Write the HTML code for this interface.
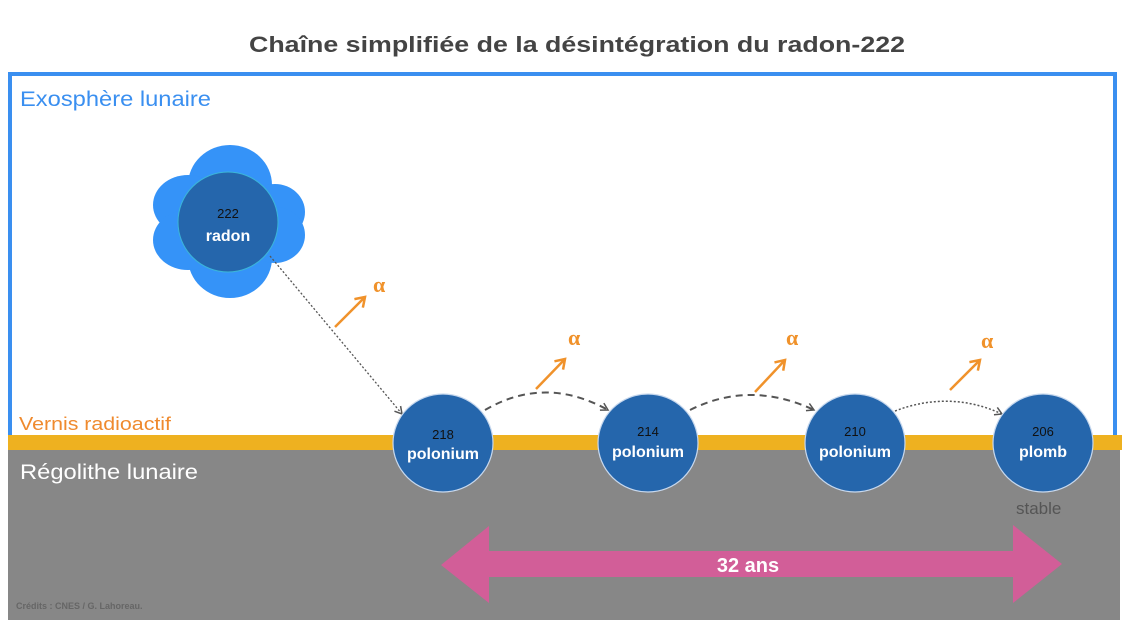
<!DOCTYPE html>
<html><head><meta charset="utf-8"><style>
html,body{margin:0;padding:0;background:#fff;}
svg{display:block;font-family:"Liberation Sans",sans-serif;}
</style></head><body>
<svg width="1133" height="627" viewBox="0 0 1133 627" xmlns="http://www.w3.org/2000/svg">
<defs>
<marker id="ah" markerWidth="10" markerHeight="10" refX="8" refY="5" orient="auto" markerUnits="userSpaceOnUse">
<path d="M1,1 L8,5 L1,9" fill="none" stroke="#555" stroke-width="1.5"/></marker>
<marker id="oa" markerWidth="14" markerHeight="14" refX="11" refY="7" orient="auto" markerUnits="userSpaceOnUse">
<path d="M2,1 L11,7 L2,13" fill="none" stroke="#f0922b" stroke-width="2.5"/></marker>
</defs>
<text x="249" y="52" font-size="22" font-weight="bold" fill="#444" textLength="656" lengthAdjust="spacingAndGlyphs">Chaîne simplifiée de la désintégration du radon-222</text>
<rect x="10" y="74" width="1105" height="380" fill="none" stroke="#3a8ff0" stroke-width="4"/>
<text x="20" y="106" font-size="21" fill="#3a8ff0" textLength="191" lengthAdjust="spacingAndGlyphs">Exosphère lunaire</text>
<rect x="8" y="450" width="1112" height="170" fill="#878787"/>
<rect x="8" y="435" width="1114" height="15" fill="#eeb120"/>
<text x="19" y="430" font-size="18" fill="#ef8a2e" textLength="152" lengthAdjust="spacingAndGlyphs">Vernis radioactif</text>
<text x="20" y="479" font-size="21" fill="#fff" textLength="178" lengthAdjust="spacingAndGlyphs">Régolithe lunaire</text>
<text x="1016" y="514" font-size="17" fill="#555">stable</text>
<text x="16" y="609" font-size="9" font-weight="bold" fill="#666">Crédits : CNES / G. Lahoreau.</text>
<!-- pink arrow -->
<path d="M441,565 L489,526 L489,551 L1013,551 L1013,525 L1062,564 L1013,603 L1013,577 L489,577 L489,603 Z" fill="#d25e98"/>
<text x="748" y="572" font-size="20" font-weight="bold" fill="#fff" text-anchor="middle">32 ans</text>
<!-- radon cloud -->
<g fill="#3593f8">
<ellipse cx="230" cy="185" rx="42" ry="40"/>
<ellipse cx="230" cy="258" rx="42" ry="40"/>
<ellipse cx="188" cy="205" rx="35" ry="30"/>
<ellipse cx="188" cy="240" rx="35" ry="30"/>
<ellipse cx="275" cy="212" rx="30" ry="28"/>
<ellipse cx="275" cy="235" rx="30" ry="28"/>
</g>
<circle cx="228" cy="222" r="50" fill="#2566ac" stroke="#3bb6d8" stroke-width="1"/>
<text x="228" y="218" font-size="13" fill="#111" text-anchor="middle">222</text>
<text x="228" y="241" font-size="16" font-weight="bold" fill="#fff" text-anchor="middle">radon</text>
<!-- connectors -->
<path d="M270,256 L402,414" stroke="#555" stroke-width="1.3" stroke-dasharray="2,2" fill="none" marker-end="url(#ah)"/>
<path d="M485,410 Q545,375 608,410" stroke="#555" stroke-width="2" stroke-dasharray="7,5" fill="none" marker-end="url(#ah)"/>
<path d="M690,410 Q750,380 814,410" stroke="#555" stroke-width="2" stroke-dasharray="7,5" fill="none" marker-end="url(#ah)"/>
<path d="M895,411 Q950,390 1002,414" stroke="#555" stroke-width="1.5" stroke-dasharray="2,2" fill="none" marker-end="url(#ah)"/>
<!-- alpha arrows -->
<g stroke="#f0922b" stroke-width="2.5" fill="none">
<path d="M335,327 L365,297" marker-end="url(#oa)"/>
<path d="M536,389 L565,359" marker-end="url(#oa)"/>
<path d="M755,392 L785,360" marker-end="url(#oa)"/>
<path d="M950,390 L980,360" marker-end="url(#oa)"/>
</g>
<g font-family="Liberation Serif,serif" font-size="22" font-weight="bold" fill="#f0922b">
<text x="373" y="292">α</text><text x="568" y="345">α</text><text x="786" y="345">α</text><text x="981" y="348">α</text>
</g>
<!-- nuclei -->
<g stroke="#c7d8ee" stroke-width="1.2" fill="#2566ac">
<ellipse cx="443" cy="443" rx="50" ry="49"/>
<ellipse cx="648" cy="443" rx="50" ry="49"/>
<ellipse cx="855" cy="443" rx="50" ry="49"/>
<ellipse cx="1043" cy="443" rx="50" ry="49"/>
</g>
<g text-anchor="middle">
<text x="443" y="439" font-size="13" fill="#111">218</text>
<text x="443" y="459" font-size="16" font-weight="bold" fill="#fff">polonium</text>
<text x="648" y="436" font-size="13" fill="#111">214</text>
<text x="648" y="457" font-size="16" font-weight="bold" fill="#fff">polonium</text>
<text x="855" y="436" font-size="13" fill="#111">210</text>
<text x="855" y="457" font-size="16" font-weight="bold" fill="#fff">polonium</text>
<text x="1043" y="436" font-size="13" fill="#111">206</text>
<text x="1043" y="457" font-size="16" font-weight="bold" fill="#fff">plomb</text>
</g>
</svg>
</body></html>
